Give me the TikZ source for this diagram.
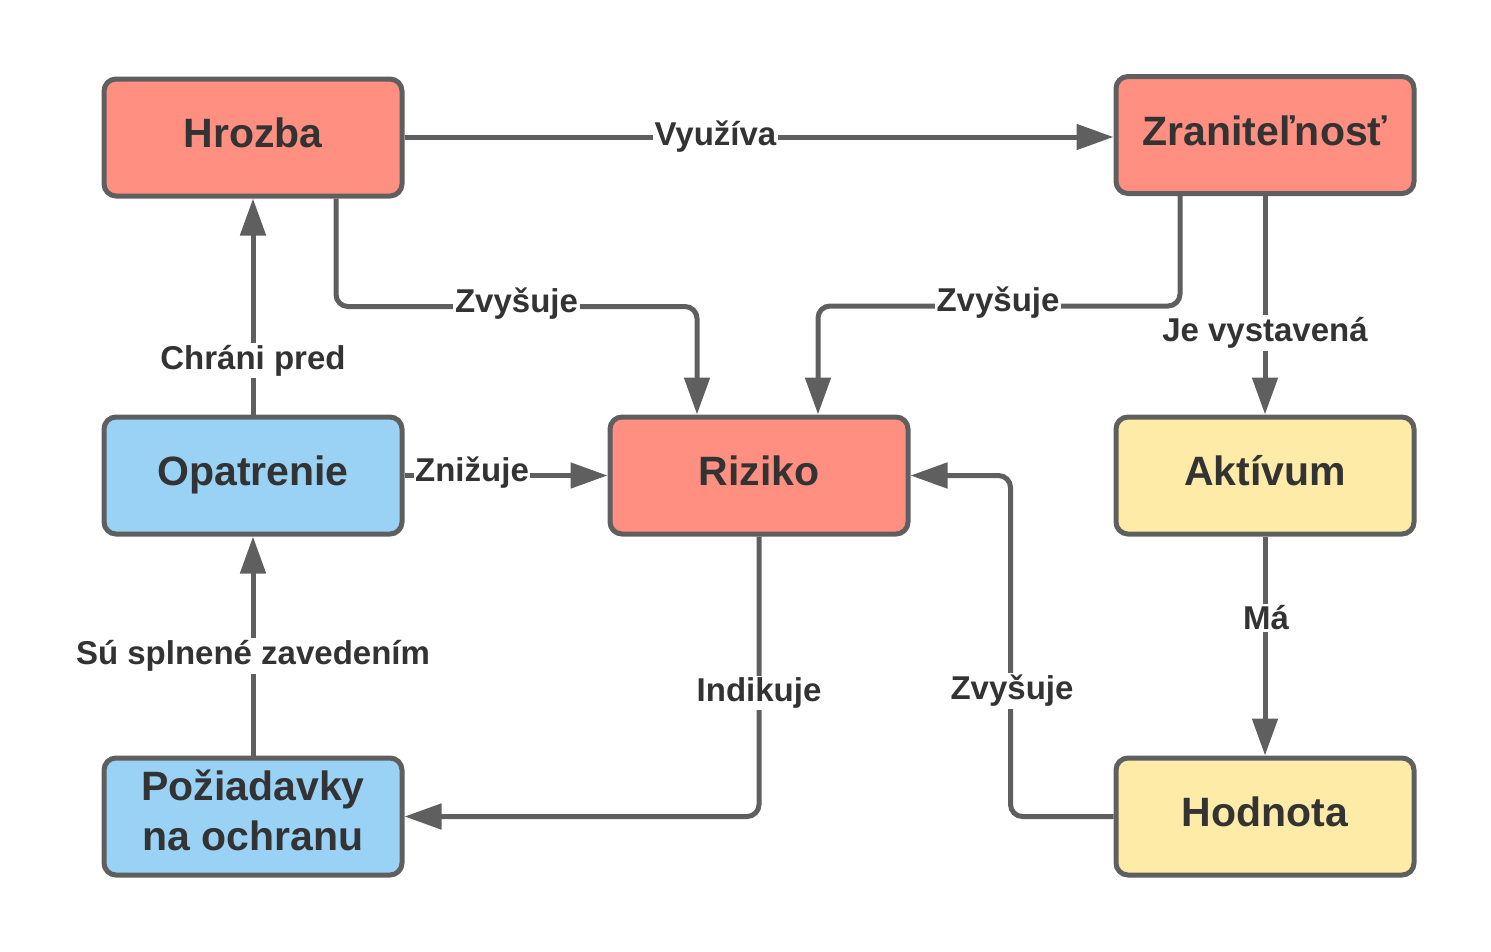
\documentclass[tikz,border=0pt]{standalone}
\usepackage{fontspec}
\setmainfont{Liberation Sans}
\usetikzlibrary{arrows.meta}
\definecolor{redfill}{HTML}{FF8F80}
\definecolor{bluefill}{HTML}{99D2F4}
\definecolor{yellowfill}{HTML}{FFEBA8}
\definecolor{edge}{HTML}{5F5F5F}
\definecolor{txt}{HTML}{333333}
\tikzset{
  box/.style={draw=edge, line width=5pt, rounded corners=12pt, minimum width=298pt, minimum height=117pt,
    align=center, text=txt, font=\fontsize{41}{50}\selectfont\bfseries},
  oneline/.style={text height=30pt, text depth=10pt},
  redbox/.style={box, oneline, fill=redfill},
  bluebox/.style={box, fill=bluefill},
  yellowbox/.style={box, oneline, fill=yellowfill},
  arr/.style={draw=edge, line width=5pt, rounded corners=12pt, -{Triangle[length=37pt,width=25pt]}},
  lbl/.style={fill=white, text=txt, inner sep=2pt, font=\fontsize{33}{39}\selectfont\bfseries}
}
\begin{document}
\begin{tikzpicture}[x=1pt,y=-1pt]
\useasboundingbox (0,0) rectangle (1491,951);
\node[redbox] (hrozba) at (253,137.5) {Hrozba};
\node[redbox] (zran) at (1265,135) {Zraniteľnosť};
\node[bluebox, oneline] (opat) at (253,475.5) {Opatrenie};
\node[redbox] (riziko) at (759,475.5) {Riziko};
\node[yellowbox] (aktiv) at (1265,475.5) {Aktívum};
\node[bluebox, text depth=12pt] (poz) at (253,816.5) {Požiadavky\\na ochranu};
\node[yellowbox] (hodn) at (1265,816.5) {Hodnota};

\draw[arr] ([yshift=0.5pt]hrozba.east) -- ([yshift=0.5pt]hrozba.east -| zran.west);
\draw[arr] ([xshift=83pt]hrozba.south) -- ++(0,108) -| ([xshift=-62pt]riziko.north);
\draw[arr] ([xshift=-85pt]zran.south) -- ++(0,110) -| ([xshift=59pt]riziko.north);
\draw[arr] (zran.south) -- (zran.south |- aktiv.north);
\draw[arr] (opat.north) -- (hrozba.south);
\draw[arr] (opat.east) -- (riziko.west);
\draw[arr] (poz.north) -- (opat.south);
\draw[arr] (riziko.south) |- (poz.east);
\draw[arr] (hodn.west) -- ++(-103,0) |- (riziko.east);
\draw[arr] (aktiv.south) -- (hodn.north);

\node[lbl] (l1) at (715.5,136.5) {Využíva};
\node[lbl] (l2) at (516.5,304) {Zvyšuje};
\node[lbl] (l3) at (998,303) {Zvyšuje};
\node[lbl] (l4) at (1265,333) {Je vystavená};
\node[lbl] (l5) at (253,360.5) {Chráni pred};
\node[lbl,inner sep=1pt] (l6) at (472,473) {Znižuje};
\node[lbl] (l7) at (253,656) {Sú splnené zavedením};
\node[lbl] (l8) at (759,693) {Indikuje};
\node[lbl] (l9) at (1012,691) {Zvyšuje};
\node[lbl] (l10) at (1266,618) {Má};
\end{tikzpicture}
\end{document}
